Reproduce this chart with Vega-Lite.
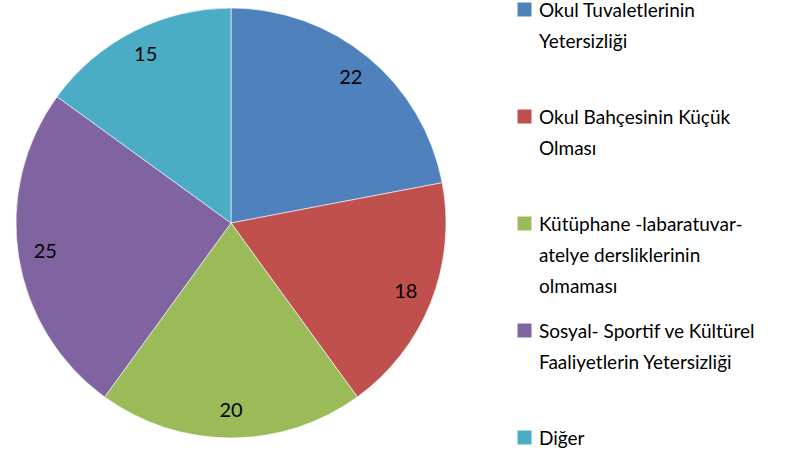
{
  "$schema": "https://vega.github.io/schema/vega-lite/v6.json",
  "width": 462,
  "height": 446,
  "padding": 0,
  "background": "white",
  "config": {"view": {"stroke": null}},
  "data": {
    "values": [
      {"category": "Okul Tuvaletlerinin Yetersizliği", "value": 22},
      {"category": "Okul Bahçesinin Küçük Olması", "value": 18},
      {"category": "Kütüphane -labaratuvar-atelye dersliklerinin olmaması", "value": 20},
      {"category": "Sosyal- Sportif ve Kültürel Faaliyetlerin Yetersizliği", "value": 25},
      {"category": "Diğer", "value": 15}
    ]
  },
  "transform": [{"window": [{"op": "row_number", "as": "idx"}]}],
  "encoding": {
    "theta": {"field": "value", "type": "quantitative", "stack": true},
    "order": {"field": "idx", "type": "quantitative"}
  },
  "layer": [
    {
      "mark": {"type": "arc", "outerRadius": 215, "stroke": "white", "strokeWidth": 0.6},
      "encoding": {
        "color": {
          "field": "category",
          "type": "nominal",
          "scale": {
            "domain": [
              "Okul Tuvaletlerinin Yetersizliği",
              "Okul Bahçesinin Küçük Olması",
              "Kütüphane -labaratuvar-atelye dersliklerinin olmaması",
              "Sosyal- Sportif ve Kültürel Faaliyetlerin Yetersizliği",
              "Diğer"
            ],
            "range": ["#4F81BD", "#C0504D", "#9BBB59", "#8064A2", "#4BACC6"]
          },
          "legend": {
            "title": null,
            "orient": "right",
            "offset": 53,
            "symbolType": "square",
            "symbolSize": 196,
            "symbolStrokeWidth": 0,
            "symbolOpacity": 1,
            "labelFont": "Lato",
            "labelFontSize": 19,
            "labelColor": "#000000",
            "labelLimit": 300,
            "labelOffset": 5,
            "labelBaseline": "alphabetic",
            "gridAlign": "all",
            "rowPadding": 24,
            "labelExpr": "datum.label == 'Okul Tuvaletlerinin Yetersizliği' ? ['Okul Tuvaletlerinin', 'Yetersizliği'] : datum.label == 'Okul Bahçesinin Küçük Olması' ? ['Okul Bahçesinin Küçük', 'Olması'] : datum.label == 'Kütüphane -labaratuvar-atelye dersliklerinin olmaması' ? ['Kütüphane -labaratuvar-', 'atelye dersliklerinin', 'olmaması'] : datum.label == 'Sosyal- Sportif ve Kültürel Faaliyetlerin Yetersizliği' ? ['Sosyal- Sportif ve Kültürel', 'Faaliyetlerin Yetersizliği'] : datum.label",
            "encoding": {
              "labels": {"lineHeight": {"value": 31}, "dy": {"value": 7}}
            }
          }
        }
      }
    },
    {
      "mark": {"type": "text", "radius": 188, "font": "Lato", "fontSize": 20, "color": "#000000"},
      "encoding": {
        "text": {"field": "value", "type": "quantitative"}
      }
    }
  ]
}
